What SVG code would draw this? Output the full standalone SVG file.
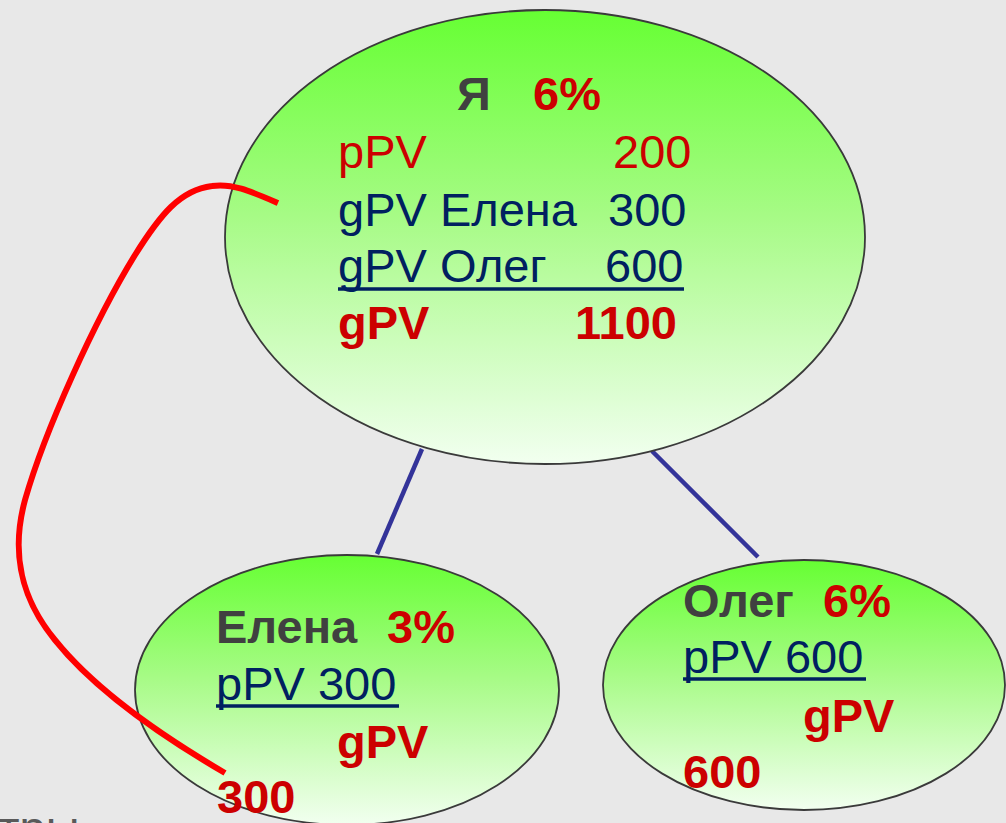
<svg xmlns="http://www.w3.org/2000/svg" width="1006" height="823" viewBox="0 0 1006 823">
  <defs>
    <linearGradient id="bubble" x1="0" y1="0" x2="0" y2="1">
      <stop offset="0" stop-color="#66ff33"/>
      <stop offset="0.45" stop-color="#a6fb85"/>
      <stop offset="1" stop-color="#f2fff0"/>
    </linearGradient>
    <style>
      .node { fill: url(#bubble); stroke: #3a3a3a; stroke-width: 1.8; }
      .t { font-family: "Liberation Sans", Arial, sans-serif; font-size: 47px; }
      .b { font-weight: bold; }
      .gray { fill: #404040; }
      .red { fill: #cc0000; }
      .navy { fill: #002060; }
      .ul { stroke: #002060; stroke-width: 3.5; }
      .edge { stroke: #333399; stroke-width: 4.5; fill: none; }
      .loop { stroke: #ff0000; stroke-width: 6; fill: none; stroke-linecap: butt; }
    </style>
  </defs>

  <rect width="1006" height="823" fill="#e8e8e8"/>

  <!-- partially visible caption at the lower edge -->
  <text x="-2" y="844" class="t" fill="#595959" font-size="40">тры</text>

  <!-- connectors -->
  <g id="connectors">
    <line class="edge" x1="422" y1="449" x2="377" y2="554"/>
    <line class="edge" x1="652" y1="451" x2="758" y2="557"/>
  </g>

  <!-- top node -->
  <g id="node-me">
    <ellipse class="node" cx="545" cy="237" rx="320" ry="227"/>
    <text class="t b" y="110"><tspan x="457" class="gray">Я</tspan><tspan x="533" class="red">6%</tspan></text>
    <text class="t red" y="168"><tspan x="338">pPV</tspan><tspan x="613">200</tspan></text>
    <text class="t navy" y="226"><tspan x="338">gPV Елена</tspan><tspan x="608">300</tspan></text>
    <text class="t navy" y="282"><tspan x="338">gPV Олег</tspan><tspan x="605">600</tspan></text>
    <line class="ul" x1="338" y1="289" x2="684" y2="289"/>
    <text class="t b red" y="339"><tspan x="338">gPV</tspan><tspan x="575">1100</tspan></text>
  </g>

  <!-- left child -->
  <g id="node-elena">
    <ellipse class="node" cx="347" cy="690" rx="212" ry="135"/>
    <text class="t b" y="643"><tspan x="216" class="gray">Елена</tspan><tspan x="387" class="red">3%</tspan></text>
    <text class="t navy" x="216" y="700">pPV 300</text>
    <line class="ul" x1="216" y1="706" x2="399" y2="706"/>
    <text class="t b red" x="337" y="758">gPV</text>
    <text class="t b red" x="217" y="813">300</text>
  </g>

  <!-- right child -->
  <g id="node-oleg">
    <ellipse class="node" cx="804" cy="685" rx="201" ry="125"/>
    <text class="t b" y="617"><tspan x="683" class="gray">Олег</tspan><tspan x="823" class="red">6%</tspan></text>
    <text class="t navy" x="683" y="673">pPV 600</text>
    <line class="ul" x1="683" y1="679" x2="866" y2="679"/>
    <text class="t b red" x="803" y="732">gPV</text>
    <text class="t b red" x="683" y="788">600</text>
  </g>

  <!-- red loop tying Elena's volume to the top node -->
  <g id="loop">
    <path class="loop" d="M278,203 C250,191 232,183 212,186 C180,190 160,215 135,255 C95,320 45,430 25,500 C10,555 22,600 55,640 C95,690 160,735 225,773"/>
  </g>
</svg>
